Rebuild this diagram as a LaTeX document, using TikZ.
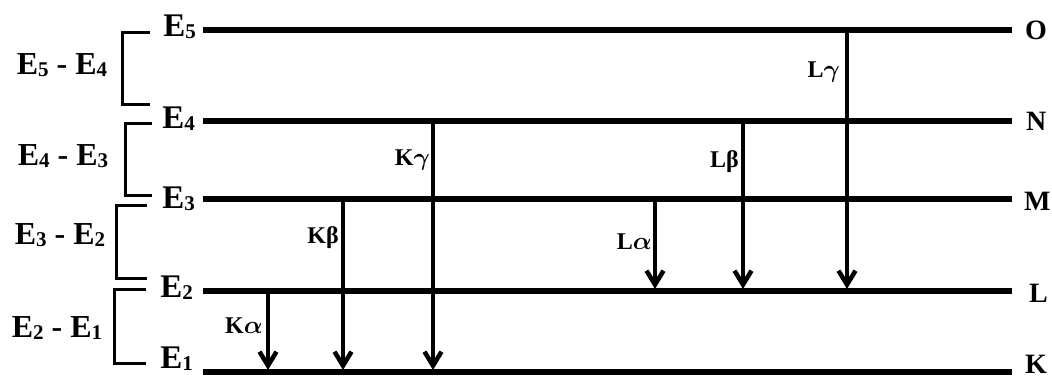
\documentclass[tikz,border=0pt]{standalone}
\usepackage{fontspec}
\setmainfont{Liberation Serif}
\usetikzlibrary{arrows.meta}
\tikzset{
  level/.style={line width=6pt},
  trans/.style={line width=3.5pt, -{Straight Barb[length=14pt,width=17pt,line width=4.5pt]}},
  bracket/.style={line width=3pt},
  elabel/.style={font=\fontsize{33}{38}\selectfont\bfseries, inner sep=0pt, anchor=base east},
  gaplabel/.style={font=\fontsize{32}{38}\selectfont\bfseries, inner sep=0pt, anchor=base},
  shell/.style={font=\fontsize{28}{32}\selectfont\bfseries, inner sep=0pt, anchor=base west},
  tlabel/.style={font=\fontsize{24}{28}\selectfont\bfseries\boldmath, inner sep=0pt, anchor=east},
}
% level symbol with a lowered, reduced index
\newcommand\En[1]{E\raisebox{-0.09em}{\fontsize{21}{21}\selectfont #1}}
\begin{document}
\begin{tikzpicture}[x=1pt,y=-1pt]
\useasboundingbox (0,0) rectangle (1052,378);

% energy levels: left and right ends
\foreach \n/\y in {5/30,4/121,3/199,2/291,1/372}{
  \coordinate (w\n) at (203,\y);
  \coordinate (e\n) at (1012,\y);
  \draw[level] (w\n) -- (e\n);
}

% level names on the left
\node[elabel] (E5) at (196,36)  {\En{5}};
\node[elabel] (E4) at (195,128) {\En{4}};
\node[elabel] (E3) at (195,208) {\En{3}};
\node[elabel] (E2) at (193,297) {\En{2}};
\node[elabel] (E1) at (193,368) {\En{1}};

% shell names on the right
\node[shell] (O) at (1025,39)  {O};
\node[shell] (N) at (1026,130) {N};
\node[shell] (M) at (1024,210) {M};
\node[shell] (L) at (1029,302) {L};
\node[shell] (K) at (1025,373) {K};

% brackets marking the energy gaps
\coordinate (b54a) at (150,32);  \coordinate (b54b) at (150,104);
\coordinate (b43a) at (152,123); \coordinate (b43b) at (152,195);
\coordinate (b32a) at (147,205); \coordinate (b32b) at (147,278);
\coordinate (b21a) at (146,289); \coordinate (b21b) at (146,363);
\draw[bracket] (b54a) -| (122,104) -- (b54b);
\draw[bracket] (b43a) -| (125,195) -- (b43b);
\draw[bracket] (b32a) -| (116,278) -- (b32b);
\draw[bracket] (b21a) -| (114,363) -- (b21b);

\node[gaplabel] (g54) at (62,74)  {\En{5} - \En{4}};
\node[gaplabel] (g43) at (63,165) {\En{4} - \En{3}};
\node[gaplabel] (g32) at (60,244) {\En{3} - \En{2}};
\node[gaplabel] (g21) at (57,337) {\En{2} - \En{1}};

% K series
\coordinate (ka1) at (268,291); \coordinate (ka2) at (268,370);
\coordinate (kb1) at (343,199); \coordinate (kb2) at (343,370);
\coordinate (kg1) at (433,121); \coordinate (kg2) at (433,370);
% L series
\coordinate (la1) at (655,199); \coordinate (la2) at (655,289);
\coordinate (lb1) at (743,121); \coordinate (lb2) at (743,289);
\coordinate (lg1) at (847,30);  \coordinate (lg2) at (847,289);

\draw[trans] (ka1) -- (ka2);
\draw[trans] (kb1) -- (kb2);
\draw[trans] (kg1) -- (kg2);
\draw[trans] (la1) -- (la2);
\draw[trans] (lb1) -- (lb2);
\draw[trans] (lg1) -- (lg2);

\node[tlabel] (Ka) at (263,326) {K$\alpha$};
\node[tlabel] (Kb) at (339,238) {Kβ};
\node[tlabel] (Kg) at (430,160) {K$\gamma$};
\node[tlabel] (La) at (652,242) {L$\alpha$};
\node[tlabel] (Lb) at (739,162) {Lβ};
\node[tlabel] (Lg) at (840,72)  {L$\gamma$};
\end{tikzpicture}
\end{document}
